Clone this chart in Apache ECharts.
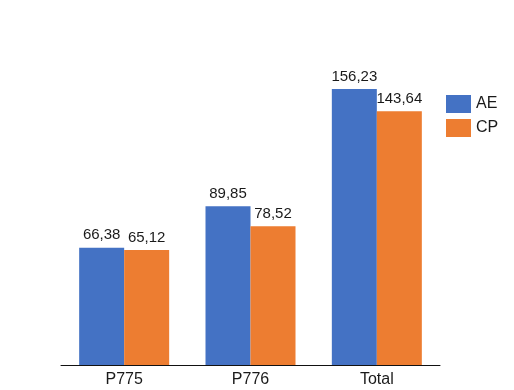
<!DOCTYPE html>
<html>
<head>
<meta charset="utf-8">
<script src="https://cdn.jsdelivr.net/npm/echarts@6/dist/echarts.min.js"></script>
<style>html,body{margin:0;padding:0;background:#fff}#c{width:514px;height:390px}</style>
</head>
<body>
<div id="c"></div>
<script>
const categories = ['P775', 'P776', 'Total'];
const aeValues = [66.38, 89.85, 156.23];
const cpValues = [65.12, 78.52, 143.64];
const seriesNames = ['AE', 'CP'];

const chart = echarts.init(document.getElementById('c'), null, {renderer: 'canvas'});
const fmt = p => p.value.toFixed(2).replace('.', ',');
const labelStyle = {show: true, position: 'top', distance: 5, formatter: fmt, color: '#1a1a1a', fontSize: 15, fontFamily: 'Liberation Sans, Arial, sans-serif'};
chart.setOption({
  animation: false,
  grid: {left: 61, top: 47, width: 379, height: 318, containLabel: false},
  legend: {
    orient: 'vertical', left: 446, top: 95, padding: 0, itemWidth: 25, itemHeight: 18, itemGap: 6,
    icon: 'rect',
    textStyle: {fontSize: 16, color: '#1a1a1a', fontFamily: 'Liberation Sans, Arial, sans-serif'},
    data: seriesNames
  },
  xAxis: {
    type: 'category', data: categories,
    axisLine: {lineStyle: {color: '#111', width: 1}},
    axisTick: {show: false},
    axisLabel: {fontSize: 16, color: '#1a1a1a', margin: 7, fontFamily: 'Liberation Sans, Arial, sans-serif'}
  },
  yAxis: {type: 'value', min: 0, max: 180, show: false, splitLine: {show: false}},
  series: [
    {name: seriesNames[0], type: 'bar', data: aeValues, barWidth: 45, barGap: '0%', itemStyle: {color: '#4472C4'}, label: labelStyle},
    {name: seriesNames[1], type: 'bar', data: cpValues, barWidth: 45, barGap: '0%', itemStyle: {color: '#ED7D31'}, label: labelStyle}
  ]
});
</script>
</body>
</html>
